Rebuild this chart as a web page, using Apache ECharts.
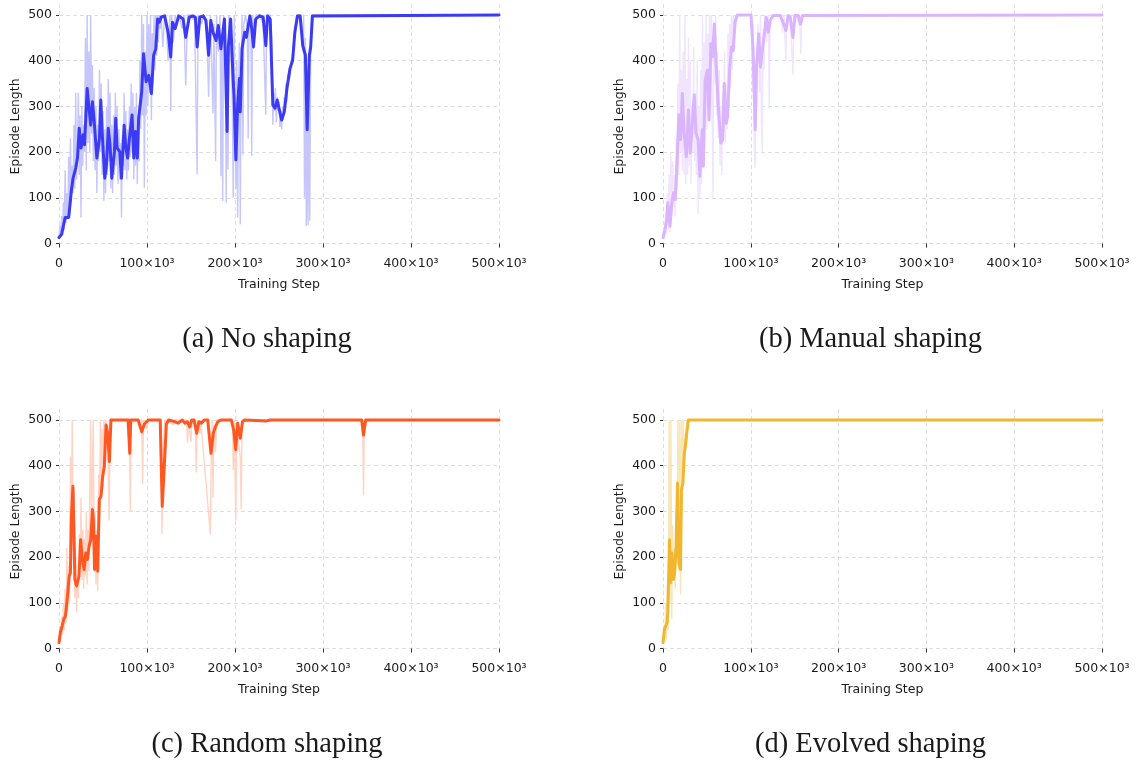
<!DOCTYPE html>
<html>
<head>
<meta charset="utf-8">
<script src="https://cdn.jsdelivr.net/npm/echarts@6/dist/echarts.min.js"></script>
<style>
  html, body { margin: 0; padding: 0; background: #fff; }
  #main { width: 1141px; height: 760px; }
</style>
</head>
<body>
<div id="main"></div>
<script>
// tick values (x in thousands of steps)
var xTicks = [0, 100, 200, 300, 400, 500];
var yTicks = [0, 100, 200, 300, 400, 500];
var captions = ['(a) No shaping', '(b) Manual shaping', '(c) Random shaping', '(d) Evolved shaping'];

// (a) No shaping — [step k, episode length]
var smoothA = [[0,13],[3,20],[7,57],[11,57],[12.5,85],[14,115],[16,143],[19,165],[21,187],[23,252],[25,209],[27.5,238],[29,216],[32,339],[34,339],[36,259],[38,310],[40,267],[43,187],[46,230],[47.5,314],[49,245],[52,143],[54,172],[56,252],[58,216],[60,143],[63,201],[64.5,274],[66,209],[69,201],[71,143],[74,259],[76,209],[78,187],[80,230],[83,281],[85,187],[87,245],[89,187],[90.5,274],[94,332],[96,415],[99,354],[102,368],[105,328],[107.5,412],[110,426],[112,491],[114,484],[116,495],[120,498],[124,462],[127,408],[129,484],[132,470],[136,498],[141,491],[144,451],[148,495],[152,498],[155,495],[157,430],[160,495],[164,498],[167,488],[170,412],[172.5,488],[175,462],[176,466],[178.5,444],[181,477],[184,426],[186,426],[188,491],[191,245],[192.5,433],[195,491],[197.5,375],[199,317],[201,183],[203,303],[205,361],[206,288],[208,426],[211,462],[213,451],[215,477],[217,498],[219,470],[221,430],[223.5,491],[228,498],[232,495],[235,433],[237,498],[240,491],[243,303],[245.5,296],[248,314],[250,296],[253,270],[256,288],[259,339],[262.5,383],[265.5,401],[268,462],[271,498],[274,498],[277,433],[280,412],[282,249],[284.5,412],[286,430],[288,498],[290,500],[500,500]];
var rawA = [[0,10],[1,40],[2,15],[3,60],[4,20],[5,90],[6,30],[7,160],[8,45],[9,110],[10,55],[11,190],[12,60],[13,230],[14,90],[15,170],[16,110],[17,260],[18,120],[19,330],[20,140],[21,200],[22,330],[23,150],[24,280],[25,57],[26,300],[27,170],[28,260],[29,200],[30,450],[31,160],[32,500],[33,220],[34,420],[35,200],[36,500],[37,240],[38,390],[39,180],[40,340],[41,160],[42,300],[43,110],[44,260],[45,180],[46,380],[47,200],[48,350],[49,150],[50,290],[51,93],[52,250],[53,110],[54,300],[55,150],[56,360],[57,180],[58,330],[59,120],[60,260],[61,110],[62,280],[63,150],[64,330],[65,170],[66,300],[67,130],[68,250],[69,140],[70,220],[71,57],[72,230],[73,170],[74,330],[75,160],[76,290],[77,140],[78,250],[79,160],[80,300],[81,190],[82,350],[83,200],[84,330],[85,140],[86,300],[87,170],[88,330],[89,130],[90,280],[91,180],[92,400],[93,250],[94,500],[95,280],[96,480],[97,122],[98,420],[99,280],[100,500],[101,300],[102,480],[103,330],[104,500],[105,270],[106,460],[107,350],[108,500],[109,380],[110,500],[111,410],[112,500],[113,440],[114,500],[115,470],[116,500],[118,430],[120,500],[122,470],[124,400],[126,500],[127,290],[128,500],[130,440],[132,500],[134,480],[136,500],[140,470],[142,500],[144,345],[146,500],[150,500],[152,490],[154,500],[157,151],[158,500],[162,480],[164,500],[168,470],[170,321],[172,500],[175,285],[176,480],[178,180],[179,500],[181,420],[183,500],[184,147],[185,450],[186,93],[187,500],[189,450],[190,89],[191,400],[192,162],[193,500],[195,450],[197,300],[198,100],[199,500],[200,260],[201,120],[202,400],[203,57],[204,320],[205,440],[206,42],[207,380],[208,500],[209,194],[210,480],[212,500],[214,470],[215,230],[216,500],[218,480],[219,191],[220,500],[222,450],[224,500],[228,500],[232,480],[235,281],[236,500],[240,500],[242,440],[243,260],[244,330],[245,290],[246,340],[247,265],[248,320],[249,290],[250,310],[251,255],[252,290],[253,250],[254,300],[255,270],[256,320],[257,300],[258,350],[259,310],[260,370],[262,360],[264,400],[266,420],[268,470],[270,500],[275,500],[277,420],[278,500],[279,100],[280,450],[281,38],[282,300],[283,40],[284,400],[285,50],[286,450],[287,500],[290,500],[500,500]];

// (b) Manual shaping
var smoothB = [[0,13],[2.3,31],[4.3,53],[5.5,89],[8,38],[10,89],[12,111],[14,96],[16,176],[18,281],[20,227],[22,328],[24,241],[26.6,190],[29,292],[31,198],[33.7,270],[35.6,325],[37.6,241],[40,227],[42,147],[44.7,249],[46,169],[48,357],[50.5,379],[52.5,270],[54.5,437],[56.4,408],[58.4,480],[60.3,401],[63,299],[65.8,220],[68,227],[69.7,350],[72,263],[73.6,278],[76,386],[78,430],[80,422],[82,484],[84.6,500],[100.3,500],[102.6,422],[105,249],[106.5,386],[109,459],[111,386],[113,422],[115,451],[117.5,495],[120,462],[122,488],[125.7,499],[133.5,499],[137.5,480],[140,466],[142.6,499],[145,495],[148,451],[150.4,499],[154,499],[156.7,480],[159,499],[160,500],[500,500]];
var rawB = [[0,10],[1,35],[2,15],[3,70],[4,20],[5,110],[6,30],[7,150],[8,25],[9,200],[10,60],[11,180],[12,80],[13,150],[14,60],[15,230],[16,120],[17,350],[18,150],[19,500],[20,200],[21,380],[22,160],[23,420],[24,150],[25,500],[26,130],[27,360],[28,150],[29,450],[30,170],[31,400],[32,130],[33,300],[34,200],[35,430],[36,180],[37,330],[38,150],[39,400],[40,64],[41,300],[42,100],[43,380],[44,130],[45,500],[46,200],[47,440],[48,280],[49,500],[50,250],[51,460],[52,300],[53,500],[54,330],[55,500],[56,280],[57,100],[58,480],[59,350],[60,500],[61,280],[62,420],[63,230],[64,380],[65,170],[66,300],[67,150],[68,330],[69,240],[70,420],[71,220],[72,350],[73,250],[74,460],[75,300],[76,480],[77,340],[78,500],[79,380],[80,500],[82,460],[84,500],[100,500],[101,470],[102,330],[103,480],[104,200],[105,165],[106,400],[107,300],[108,480],[109,420],[110,330],[111,500],[112,280],[113,200],[114,470],[115,380],[116,500],[118,440],[120,500],[121,296],[122,480],[124,500],[134,500],[136,460],[138,500],[140,400],[141,500],[144,500],[146,450],[148,370],[149,500],[152,500],[156,470],[157,415],[158,500],[500,500]];

// (c) Random shaping
var smoothC = [[0,13],[1.5,35],[3.5,49],[5.4,64],[7.3,71],[8.5,93],[10,122],[11.5,158],[13,166],[14,282],[15.8,355],[17,260],[18,151],[20,137],[22.7,158],[24.6,238],[26.5,195],[28.5,173],[30.4,209],[32.3,195],[34.2,224],[36,238],[38,304],[39,282],[40.4,173],[42,246],[44,169],[45.8,326],[47.7,333],[49.6,376],[51.5,398],[53.5,489],[55.4,471],[57.3,409],[59,500],[78.5,500],[80.4,427],[81.5,500],[90,500],[94,474],[97,491],[101.5,500],[115,500],[117.3,311],[119.6,398],[122,491],[124.6,500],[132,496],[135.4,493],[140,500],[143,493],[145.8,496],[148.5,485],[150.8,500],[153.5,500],[156.5,471],[159,496],[162,493],[165,500],[169,500],[172.7,427],[175.4,471],[177.7,485],[180.4,496],[184,500],[195.8,500],[198.5,478],[200.8,435],[203,493],[206,460],[208.5,496],[211,500],[236,498],[240,500],[344,500],[346,467],[348.5,500],[500,500]];
var rawC = [[0,10],[1,40],[2,20],[3,70],[4,30],[5,100],[6,40],[7,130],[8,55],[9,220],[10,80],[11,180],[12,100],[13,420],[14,200],[15,500],[16,250],[17,350],[18,110],[19,200],[20,80],[21,160],[22,110],[23,250],[24,180],[25,330],[26,150],[27,260],[28,130],[29,240],[30,160],[31,300],[32,140],[33,260],[34,170],[35,350],[36,500],[37,230],[38,400],[39,500],[40,180],[41,300],[42,140],[43,260],[44,125],[45,380],[46,300],[47,500],[48,330],[49,480],[50,350],[51,500],[52,420],[53,500],[54,460],[55,490],[56,380],[57,280],[58,470],[59,500],[80,500],[81,300],[82,500],[94,500],[95,360],[96,500],[100,480],[101,500],[116,500],[117,250],[118,380],[119,450],[120,500],[130,490],[132,500],[145,500],[146,450],[147,500],[150,452],[151,500],[155,480],[156,385],[157,500],[160,470],[161,500],[172,250],[173,420],[174,500],[175,330],[176,490],[178,430],[179,500],[197,500],[198,390],[199,500],[201,280],[202,480],[206,420],[207,305],[208,500],[240,500],[345,500],[346,335],[347,500],[500,500]];

// (d) Evolved shaping
var smoothD = [[0,13],[1.6,42],[3,49],[4.7,57],[5.5,78],[6.3,82],[7.4,238],[8.6,144],[10.2,209],[11.8,151],[13.3,166],[14.9,224],[16.5,362],[18,187],[20,173],[21,347],[22.7,362],[24.3,427],[25.9,449],[27.4,478],[29,500],[500,500]];
var rawD = [[0,10],[1,30],[2,15],[3,100],[4,20],[5,140],[6,40],[7,500],[8,100],[9,500],[10,65],[11,270],[12,150],[13,220],[14,130],[15,300],[16,200],[17,500],[18,170],[19,500],[20,118],[21,500],[22,300],[23,500],[24,380],[25,470],[26,440],[27,500],[28,480],[29,500],[500,500]];

var panels = [
  { smooth: smoothA, raw: rawA, dark: '#3b3bf6', light: '#c6c6fb' },
  { smooth: smoothB, raw: rawB, dark: '#dab4fd', light: '#f1e4fe' },
  { smooth: smoothC, raw: rawC, dark: '#ff5722', light: '#ffd4c4' },
  { smooth: smoothD, raw: rawD, dark: '#f0b62e', light: '#f9e6b8' }
];

var grids = [
  { left: 59, top: 4, width: 440, height: 245 },
  { left: 663, top: 4, width: 439, height: 245 },
  { left: 59, top: 409, width: 440, height: 245 },
  { left: 663, top: 409, width: 439, height: 245 }
];

var tickFont = { fontFamily: 'DejaVu Sans', fontSize: 12.5, color: '#1a1a1a' };
var gridLine = { show: true, lineStyle: { color: '#d6d6d6', width: 0.8, type: [4, 3] } };

var xAxes = [], yAxes = [], series = [], texts = [];

grids.forEach(function (g, i) {
  xAxes.push({
    gridIndex: i, type: 'value', min: 0, max: 500, interval: 100,
    name: 'Training Step', nameLocation: 'middle', nameGap: 29,
    nameTextStyle: { fontFamily: 'DejaVu Sans', fontSize: 12.5, color: '#1a1a1a' },
    axisLine: { show: false },
    axisTick: { show: true, length: 4, lineStyle: { color: '#333', width: 1 } },
    axisLabel: {
      margin: 8, fontFamily: tickFont.fontFamily, fontSize: tickFont.fontSize, color: tickFont.color,
      formatter: function (v) { return v === 0 ? '0' : v + '×10³'; }
    },
    splitLine: gridLine
  });
  yAxes.push({
    gridIndex: i, type: 'value', min: -12, max: 524,
    name: 'Episode Length', nameLocation: 'middle', nameGap: 37,
    nameTextStyle: { fontFamily: 'DejaVu Sans', fontSize: 12.5, color: '#1a1a1a' },
    axisLine: { show: false },
    axisTick: { show: true, length: 3, customValues: yTicks, lineStyle: { color: '#333', width: 1 } },
    axisLabel: { margin: 7, customValues: yTicks, fontFamily: tickFont.fontFamily, fontSize: tickFont.fontSize, color: tickFont.color },
    splitLine: gridLine
  });
  var p = panels[i];
  series.push({
    type: 'line', xAxisIndex: i, yAxisIndex: i, data: p.raw,
    showSymbol: false, silent: true,
    lineStyle: { color: p.light, width: 1.4 }
  });
  series.push({
    type: 'line', xAxisIndex: i, yAxisIndex: i, data: p.smooth,
    showSymbol: false, silent: true,
    lineStyle: { color: p.dark, width: 3, join: 'round', cap: 'round' }
  });
  texts.push({
    type: 'text',
    x: g.left + g.width / 2 - 12,
    y: g.top + 336,
    style: {
      text: captions[i], fill: '#1a1a1a',
      font: '28.5px "Liberation Serif", serif',
      textAlign: 'center', textVerticalAlign: 'middle'
    }
  });
});

var myChart = echarts.init(document.getElementById('main'));
myChart.setOption({
  animation: false,
  grid: grids,
  xAxis: xAxes,
  yAxis: yAxes,
  series: series,
  graphic: texts
});
</script>
</body>
</html>
